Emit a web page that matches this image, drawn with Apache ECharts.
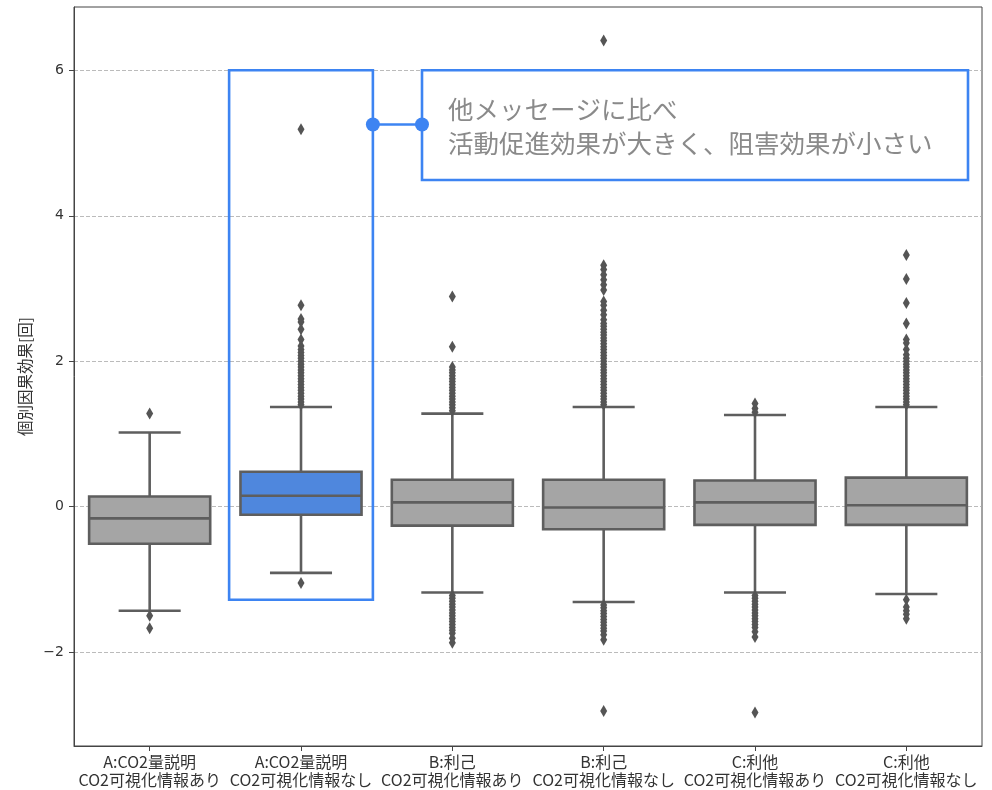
<!DOCTYPE html>
<html>
<head>
<meta charset="utf-8">
<script src="https://cdn.jsdelivr.net/npm/echarts@6/dist/echarts.min.js"></script>
<style>
  html, body { margin: 0; padding: 0; background: #fff; }
  #chart { width: 992px; height: 790px; }
</style>
</head>
<body>
<div id="chart"></div>
<script>
// Group labels (message type / CO2 visualisation)
const categories = [
  'A:CO2量説明\nCO2可視化情報あり',
  'A:CO2量説明\nCO2可視化情報なし',
  'B:利己\nCO2可視化情報あり',
  'B:利己\nCO2可視化情報なし',
  'C:利他\nCO2可視化情報あり',
  'C:利他\nCO2可視化情報なし'
];

// Box statistics per group: [lower whisker, Q1, median, Q3, upper whisker]
const whiskerLow = [-1.43, -0.91, -1.18, -1.31, -1.18, -1.20];
const quartile1  = [-0.51, -0.11, -0.26, -0.31, -0.25, -0.25];
const medians    = [-0.16,  0.15,  0.06, -0.01,  0.06,  0.02];
const quartile3  = [ 0.14,  0.48,  0.37,  0.37,  0.36,  0.40];
const whiskerHigh = [1.02,  1.37,  1.28,  1.37,  1.26,  1.37];

// Points beyond the whiskers, per group
const outliersA1 = [1.28, -1.50, -1.67];
const outliersA2 = [5.19, 2.77, 2.58, 2.54, 2.44, 2.30, 2.21, 2.16, 2.12, 2.08, 2.04, 2.00,
  1.96, 1.92, 1.88, 1.84, 1.80, 1.76, 1.72, 1.68, 1.64, 1.60, 1.56, 1.52, 1.48, 1.44, 1.40,
  -1.05];
const outliersB1 = [2.89, 2.20, 1.92, 1.88, 1.84, 1.80, 1.76, 1.72, 1.68, 1.64, 1.60, 1.56,
  1.52, 1.48, 1.44, 1.40, 1.36, 1.32,
  -1.22, -1.26, -1.30, -1.34, -1.38, -1.42, -1.46, -1.50, -1.54, -1.58, -1.62, -1.66,
  -1.70, -1.74, -1.81, -1.87];
const outliersB2 = [6.41, 3.32, 3.26, 3.19, 3.12, 3.05, 2.98, 2.82, 2.77, 2.70, 2.64, 2.57,
  2.52, 2.48, 2.44, 2.40, 2.36, 2.32, 2.28, 2.24, 2.20, 2.16, 2.12, 2.08, 2.04, 2.00, 1.96,
  1.92, 1.88, 1.84, 1.80, 1.76, 1.72, 1.68, 1.64, 1.60, 1.56, 1.52, 1.48, 1.44, 1.40,
  -1.35, -1.39, -1.43, -1.47, -1.51, -1.55, -1.59, -1.63, -1.67, -1.71, -1.76, -1.83, -2.81];
const outliersC1 = [1.30, 1.35, 1.42,
  -1.22, -1.26, -1.30, -1.34, -1.38, -1.42, -1.46, -1.50, -1.54, -1.58, -1.62, -1.66,
  -1.72, -1.79, -2.83];
const outliersC2 = [3.46, 3.13, 2.80, 2.52, 2.30, 2.25, 2.16, 2.09, 2.04, 2.00, 1.96, 1.92,
  1.88, 1.84, 1.80, 1.76, 1.72, 1.68, 1.64, 1.60, 1.56, 1.52, 1.48, 1.44, 1.40,
  -1.28, -1.38, -1.43, -1.48, -1.54];

// Value axis range and labelled ticks
const yMin = -3.29;
const yMax = 6.87;
const yTicks = [-2, 0, 2, 4, 6];

// Highlighted group and the span of its frame
const highlightIndex = 1;
const highlightRange = [-1.28, 6];

const calloutLines = ['他メッセージに比べ', '活動促進効果が大きく、阻害効果が小さい'];

const GRAY = '#a5a5a5';
const BLUE_BOX = '#4f87dd';
const EDGE = '#5e5e5e';
const ACCENT = '#3d84f2';
const FONT = '"Noto Sans CJK JP", "Noto Sans", sans-serif';
const NUM_FONT = '"DejaVu Sans", sans-serif';

const boxData = categories.map((c, i) =>
  [i, whiskerLow[i], quartile1[i], medians[i], quartile3[i], whiskerHigh[i]]);

const outlierGroups = [outliersA1, outliersA2, outliersB1, outliersB2, outliersC1, outliersC2];
const outlierData = [];
outlierGroups.forEach((vals, i) => vals.forEach(v => outlierData.push([i, v])));

function renderBox(params, api) {
  const idx = api.value(0);
  const lo = api.coord([idx, api.value(1)]);
  const q1 = api.coord([idx, api.value(2)]);
  const md = api.coord([idx, api.value(3)]);
  const q3 = api.coord([idx, api.value(4)]);
  const hi = api.coord([idx, api.value(5)]);
  const bandW = api.size([1, 0])[0];
  const half = bandW * 0.4;
  const cap = bandW * 0.205;
  const x = md[0];
  const lineStyle = { stroke: EDGE, lineWidth: 2.6 };
  return {
    type: 'group',
    children: [
      { type: 'line', shape: { x1: x, y1: q3[1], x2: x, y2: hi[1] }, style: lineStyle },
      { type: 'line', shape: { x1: x, y1: q1[1], x2: x, y2: lo[1] }, style: lineStyle },
      { type: 'line', shape: { x1: x - cap, y1: hi[1], x2: x + cap, y2: hi[1] }, style: lineStyle },
      { type: 'line', shape: { x1: x - cap, y1: lo[1], x2: x + cap, y2: lo[1] }, style: lineStyle },
      {
        type: 'rect',
        shape: { x: x - half, y: q3[1], width: half * 2, height: q1[1] - q3[1] },
        style: { fill: idx === highlightIndex ? BLUE_BOX : GRAY, stroke: EDGE, lineWidth: 2.6 }
      },
      { type: 'line', shape: { x1: x - half, y1: md[1], x2: x + half, y2: md[1] }, style: lineStyle }
    ]
  };
}

const chart = echarts.init(document.getElementById('chart'), null, { renderer: 'canvas' });

chart.setOption({
  animation: false,
  backgroundColor: '#ffffff',
  grid: {
    left: 74, right: 10, top: 7, bottom: 44,
    show: true, borderColor: '#444', borderWidth: 1, backgroundColor: 'transparent'
  },
  xAxis: {
    type: 'category',
    data: categories,
    boundaryGap: true,
    axisLine: { show: true, onZero: false, lineStyle: { color: '#444', width: 1 } },
    axisTick: { show: true, alignWithLabel: true, length: 5, lineStyle: { color: '#444' } },
    axisLabel: {
      color: '#333', fontSize: 16, fontFamily: FONT, lineHeight: 18, margin: 7, interval: 0
    },
    splitLine: { show: false }
  },
  yAxis: {
    type: 'value',
    min: yMin,
    max: yMax,
    name: '個別因果効果[回]',
    nameLocation: 'middle',
    nameGap: 37,
    nameTextStyle: { color: '#333', fontSize: 15.5, fontFamily: FONT },
    axisLine: { show: true, lineStyle: { color: '#444', width: 1 } },
    axisTick: { show: true, length: 5, customValues: yTicks, lineStyle: { color: '#444' } },
    axisLabel: {
      color: '#333', fontSize: 14, fontFamily: NUM_FONT, margin: 10,
      customValues: yTicks,
      formatter: v => (v < 0 ? '\u2212' + Math.abs(v) : String(v))
    },
    splitLine: { show: true, lineStyle: { color: '#aaa', type: [4, 2], width: 0.8 } }
  },
  series: [
    {
      type: 'custom',
      name: 'box',
      renderItem: renderBox,
      encode: { x: 0, y: [1, 2, 3, 4, 5] },
      data: boxData,
      z: 2
    },
    {
      type: 'scatter',
      name: 'outliers',
      symbol: 'diamond',
      symbolSize: [7, 12],
      itemStyle: { color: '#555555', opacity: 1 },
      data: outlierData,
      z: 3
    }
  ]
});

// Frame around the highlighted group and the callout box joined to it
const p0 = chart.convertToPixel({ xAxisIndex: 0, yAxisIndex: 0 }, [0, 0]);
const p1 = chart.convertToPixel({ xAxisIndex: 0, yAxisIndex: 0 }, [1, 0]);
const bandPx = p1[0] - p0[0];
const frameTop = chart.convertToPixel({ yAxisIndex: 0 }, highlightRange[1]);
const frameBottom = chart.convertToPixel({ yAxisIndex: 0 }, highlightRange[0]);
const frameCx = chart.convertToPixel({ xAxisIndex: 0 }, highlightIndex);
const frameLeft = frameCx - bandPx * 0.475;
const frameRight = frameCx + bandPx * 0.475;

const calloutLeft = 422;
const calloutRight = 968;
const calloutBottom = 180;
const linkY = 124.5;

chart.setOption({
  graphic: [
    {
      type: 'rect', z: 100,
      shape: { x: frameLeft, y: frameTop, width: frameRight - frameLeft, height: frameBottom - frameTop },
      style: { fill: 'none', stroke: ACCENT, lineWidth: 2.6 }
    },
    {
      type: 'rect', z: 100,
      shape: { x: calloutLeft, y: frameTop, width: calloutRight - calloutLeft, height: calloutBottom - frameTop },
      style: { fill: '#fff', stroke: ACCENT, lineWidth: 2.6 }
    },
    {
      type: 'line', z: 101,
      shape: { x1: frameRight, y1: linkY, x2: calloutLeft, y2: linkY },
      style: { stroke: ACCENT, lineWidth: 2.6 }
    },
    { type: 'circle', z: 102, shape: { cx: frameRight, cy: linkY, r: 7 }, style: { fill: ACCENT } },
    { type: 'circle', z: 102, shape: { cx: calloutLeft, cy: linkY, r: 7 }, style: { fill: ACCENT } },
    {
      type: 'text', z: 103,
      x: 448, y: 92,
      style: {
        text: calloutLines.join('\n'),
        font: '25.5px ' + FONT,
        fill: '#8a8a8a',
        lineHeight: 34,
        verticalAlign: 'top',
        align: 'left'
      }
    }
  ]
});
</script>
</body>
</html>
